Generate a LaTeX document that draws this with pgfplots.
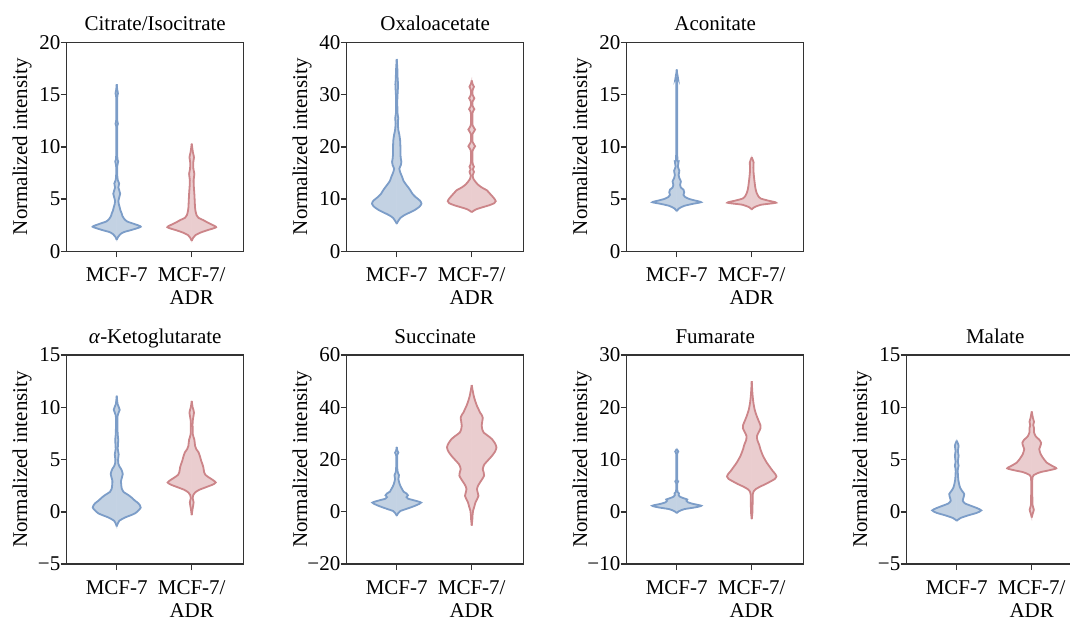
\documentclass[border=0pt]{standalone}
\usepackage{fontspec}
\setmainfont{Liberation Serif}
\usepackage{pgfplots}
\pgfplotsset{compat=1.18}
\usepackage{pgfplotstable}

\definecolor{bline}{HTML}{7C9DC8}
\definecolor{bfill}{HTML}{C3D2E3}
\definecolor{rline}{HTML}{CC8589}
\definecolor{rfill}{HTML}{EACDCF}
\definecolor{axc}{HTML}{333333}
\newcommand\fs{\fontsize{10.5}{11.5}\selectfont}

% violin outlines: y = value, w = half width (x units)
\pgfplotstableread{
y w
1.1 0
1.4 0.02
1.65 0.05
1.85 0.1
2.05 0.2
2.35 0.32
2.6 0.24
2.85 0.14
3.1 0.1
3.4 0.075
3.65 0.065
3.9 0.05
4.2 0.04
4.5 0.028
4.8 0.022
5.2 0.035
5.5 0.046
5.8 0.035
6.1 0.022
6.5 0.032
6.8 0.015
7.2 0.008
8.2 0.008
8.6 0.02
9.0 0.008
11.8 0.006
12.2 0.016
12.6 0.006
14.7 0.006
15.1 0.016
15.5 0.006
16.0 0
}\citB
\pgfplotstableread{
y w
1.0 0
1.3 0.02
1.55 0.05
1.8 0.12
2.0 0.2
2.3 0.325
2.55 0.27
2.8 0.2
3.0 0.15
3.2 0.09
3.45 0.065
3.8 0.052
4.2 0.044
4.8 0.04
5.5 0.035
6.2 0.028
6.8 0.025
7.4 0.035
7.9 0.022
8.5 0.02
9.0 0.03
9.5 0.015
10.3 0
}\citR
\pgfplotstableread{
y w
5.3 0
5.8 0.02
6.4 0.05
6.9 0.1
7.4 0.17
7.9 0.24
8.5 0.3
9.1 0.33
9.7 0.31
10.4 0.25
11.0 0.21
11.7 0.18
12.3 0.15
12.9 0.118
13.5 0.09
14.2 0.073
15.0 0.05
15.8 0.035
16.5 0.055
17.1 0.062
17.7 0.055
18.5 0.05
19.5 0.05
20.5 0.048
21.3 0.045
22.3 0.035
23.2 0.022
24.5 0.015
25.5 0.02
26.5 0.01
29 0.008
31 0.015
32 0.018
33 0.012
34.5 0.01
36.8 0
}\oxaB
\pgfplotstableread{
y w
7.5 0
7.8 0.03
8.1 0.07
8.5 0.16
8.8 0.23
9.2 0.3
9.6 0.32
10.1 0.3
10.6 0.27
11.0 0.245
11.4 0.22
11.7 0.2
12.0 0.16
12.3 0.125
12.8 0.08
13.3 0.05
13.8 0.025
14.5 0.012
15.2 0.03
15.7 0.015
16.2 0.03
16.8 0.012
19.3 0.012
20.1 0.045
20.9 0.012
22.5 0.012
23.3 0.045
24.1 0.012
26.6 0.012
27.2 0.035
27.8 0.012
28.7 0.012
29.3 0.035
29.9 0.012
30.9 0.012
31.5 0.03
32.0 0.012
32.7 0
}\oxaR
\pgfplotstableread{
y w
3.85 0
4.1 0.03
4.35 0.1
4.55 0.22
4.7 0.325
4.85 0.25
5.0 0.17
5.2 0.11
5.4 0.09
5.65 0.1
5.9 0.09
6.1 0.055
6.35 0.045
6.7 0.055
7.0 0.035
7.3 0.025
7.7 0.035
8.1 0.015
8.6 0.025
9.1 0.008
16.2 0.006
16.6 0.016
17.0 0.006
17.4 0
}\acoB
\pgfplotstableread{
y w
4.0 0
4.2 0.03
4.45 0.12
4.65 0.325
4.85 0.22
5.05 0.12
5.3 0.085
5.6 0.065
6.0 0.05
6.5 0.04
7.0 0.032
7.5 0.025
8.0 0.022
8.5 0.025
9.0 0
}\acoR
\pgfplotstableread{
y w
-1.4 0
-1.1 0.015
-0.86 0.035
-0.55 0.11
-0.15 0.245
0.4 0.32
0.8 0.29
1.05 0.245
1.35 0.2
1.6 0.155
1.9 0.09
2.2 0.067
2.6 0.06
2.96 0.058
3.3 0.07
3.6 0.08
3.9 0.07
4.1 0.058
4.35 0.035
4.6 0.022
5.0 0.018
5.5 0.026
6.0 0.014
6.9 0.02
7.5 0.012
9.2 0.012
9.75 0.04
10.3 0.012
11.1 0
}\akgB
\pgfplotstableread{
y w
-0.32 0
0.3 0.012
0.9 0.025
1.3 0.012
1.6 0.02
1.85 0.045
2.1 0.1
2.35 0.19
2.6 0.28
2.8 0.32
3.05 0.28
3.3 0.225
3.55 0.18
3.8 0.165
4.25 0.155
4.6 0.14
4.9 0.125
5.3 0.11
5.7 0.09
6.0 0.06
6.3 0.045
6.9 0.035
7.4 0.015
8.6 0.012
9.5 0.03
10.0 0.012
10.6 0
}\akgR
\pgfplotstableread{
y w
-1.5 0
-0.5 0.02
0.3 0.05
1.0 0.12
1.8 0.2
2.6 0.27
3.5 0.325
4.3 0.24
5.0 0.15
5.6 0.13
6.3 0.15
7.0 0.13
7.7 0.09
8.5 0.075
9.5 0.055
10.5 0.04
11.5 0.03
12.5 0.022
14.0 0.03
15.0 0.015
16.5 0.008
21.8 0.008
22.6 0.022
23.4 0.008
24.8 0
}\sucB
\pgfplotstableread{
y w
-5.3 0
-3 0.008
-1 0.012
0.4 0.018
2.0 0.035
3.6 0.05
5.0 0.075
6.1 0.09
7.3 0.08
8.7 0.07
10.0 0.085
11.2 0.11
12.5 0.14
13.8 0.165
15.0 0.16
16.3 0.147
17.3 0.155
18.2 0.17
19.8 0.22
21.4 0.27
23.0 0.31
24.6 0.33
26.2 0.31
27.8 0.27
29.0 0.22
30.3 0.16
31.6 0.14
32.9 0.133
34.5 0.14
36.0 0.147
37.2 0.13
38.0 0.11
39.3 0.09
40.5 0.07
42.5 0.045
44.3 0.027
46.5 0.012
48.5 0
}\sucR
\pgfplotstableread{
y w
-0.25 0
0.1 0.03
0.5 0.1
0.85 0.25
1.15 0.327
1.5 0.22
1.8 0.15
2.1 0.13
2.35 0.14
2.6 0.09
2.9 0.04
3.2 0.025
3.5 0.03
3.8 0.012
4.5 0.006
5.4 0.006
5.8 0.018
6.2 0.006
11.0 0.006
11.5 0.02
12.0 0
}\fumB
\pgfplotstableread{
y w
-1.4 0
0 0.01
2.0 0.012
3.4 0.015
4.0 0.03
4.3 0.05
4.8 0.11
5.3 0.185
5.8 0.25
6.3 0.31
6.75 0.33
7.3 0.31
7.8 0.28
8.6 0.24
9.4 0.2
10.7 0.15
12.0 0.115
12.8 0.1
13.7 0.075
14.5 0.07
15.3 0.095
16.0 0.118
16.6 0.115
17.3 0.095
18.3 0.067
19.5 0.04
20.9 0.022
22.5 0.01
25.0 0
}\fumR
\pgfplotstableread{
y w
-0.86 0
-0.6 0.05
-0.35 0.15
-0.1 0.27
0.13 0.327
0.35 0.27
0.57 0.19
0.8 0.11
1.05 0.08
1.35 0.09
1.7 0.1
2.0 0.07
2.3 0.045
2.7 0.03
3.0 0.022
3.6 0.015
4.1 0.015
4.4 0.025
4.8 0.015
5.35 0.025
5.8 0.015
6.3 0.025
6.6 0.012
6.8 0
}\malB
\pgfplotstableread{
y w
-0.55 0
-0.2 0.012
0.2 0.028
0.6 0.012
1.5 0.008
3.3 0.01
3.6 0.05
3.8 0.12
3.95 0.22
4.15 0.327
4.4 0.27
4.7 0.2
5.0 0.165
5.5 0.12
6.0 0.1
6.3 0.115
6.6 0.125
6.9 0.1
7.2 0.055
7.6 0.03
8.0 0.03
8.3 0.02
8.6 0.03
9.0 0.015
9.6 0
}\malR

% #1 position, #2 table, #3 colour letter
% each half is closed along the centre line; outlines drawn on top
\newcommand{\violin}[3]{%
  \addplot[fill=#3fill, draw=#3fill, line width=0.4pt, smooth, tension=0.4]
    table[x expr={#1+\thisrow{w}}, y=y] {#2} -- cycle;
  \addplot[fill=#3fill, draw=#3fill, line width=0.4pt, smooth, tension=0.4]
    table[x expr={#1-\thisrow{w}}, y=y] {#2} -- cycle;
  \addplot[draw=#3line, line width=0.9pt, smooth, tension=0.4]
    table[x expr={#1+\thisrow{w}}, y=y] {#2};
  \addplot[draw=#3line, line width=0.9pt, smooth, tension=0.4]
    table[x expr={#1-\thisrow{w}}, y=y] {#2};
}

\pgfplotsset{vio/.style={scale only axis, width=88.5pt, height=104.5pt,
  anchor=north west,
  xmin=-0.667, xmax=1.693, xtick={0,1}, xticklabels={MCF-7,{MCF-7/\\ADR}},
  tick align=outside, tick pos=left, major tick length=3pt,
  /pgf/number format/assume math mode=true,
  axis line style={draw=axc, line width=0.75pt},
  every tick/.style={axc, line width=0.75pt},
  xticklabel style={align=center, inner sep=0pt, yshift=-5pt, font=\fs},
  yticklabel style={inner sep=0pt, font=\fs},
  title style={at={(0.5,1)}, anchor=base, yshift=0pt, font=\fs},
  ylabel={Normalized intensity},
  every axis y label/.style={at={(rel axis cs:0,0.5)}, xshift=-19.75pt,
    rotate=90, anchor=base, font=\fs},
  after end axis/.append code={\draw[axc, line width=0.75pt]
    (rel axis cs:0,0) rectangle (rel axis cs:1,1);}}}

\begin{document}
\begin{tikzpicture}

\begin{axis}[vio, at={(33.35pt,-21.15pt)}, title={Citrate/Isocitrate},
  ymin=0, ymax=20, ytick={0,5,10,15,20}]
\violin{0}{\citB}{b}
\violin{1}{\citR}{r}
\end{axis}

\begin{axis}[vio, at={(173.35pt,-21.15pt)}, title={Oxaloacetate},
  ymin=0, ymax=40, ytick={0,10,20,30,40}]
\violin{0}{\oxaB}{b}
\violin{1}{\oxaR}{r}
\end{axis}

\begin{axis}[vio, at={(313.35pt,-21.15pt)}, title={Aconitate},
  ymin=0, ymax=20, ytick={0,5,10,15,20}]
\violin{0}{\acoB}{b}
\violin{1}{\acoR}{r}
\end{axis}

\begin{axis}[vio, at={(33.35pt,-177.5pt)}, title={\textit{α}-Ketoglutarate},
  ymin=-5, ymax=15, ytick={-5,0,5,10,15}, yticklabels={−5,0,5,10,15}]
\violin{0}{\akgB}{b}
\violin{1}{\akgR}{r}
\end{axis}

\begin{axis}[vio, at={(173.35pt,-177.5pt)}, title={Succinate},
  ymin=-20, ymax=60, ytick={-20,0,20,40,60}, yticklabels={−20,0,20,40,60}]
\violin{0}{\sucB}{b}
\violin{1}{\sucR}{r}
\end{axis}

\begin{axis}[vio, at={(313.35pt,-177.5pt)}, title={Fumarate},
  ymin=-10, ymax=30, ytick={-10,0,10,20,30}, yticklabels={−10,0,10,20,30}]
\violin{0}{\fumB}{b}
\violin{1}{\fumR}{r}
\end{axis}

\begin{axis}[vio, at={(453.35pt,-177.5pt)}, title={Malate},
  ymin=-5, ymax=15, ytick={-5,0,5,10,15}, yticklabels={−5,0,5,10,15}]
\violin{0}{\malB}{b}
\violin{1}{\malR}{r}
\end{axis}

\pgfresetboundingbox
\path[use as bounding box] (0,0) rectangle (535pt,-311pt);
\end{tikzpicture}
\end{document}
